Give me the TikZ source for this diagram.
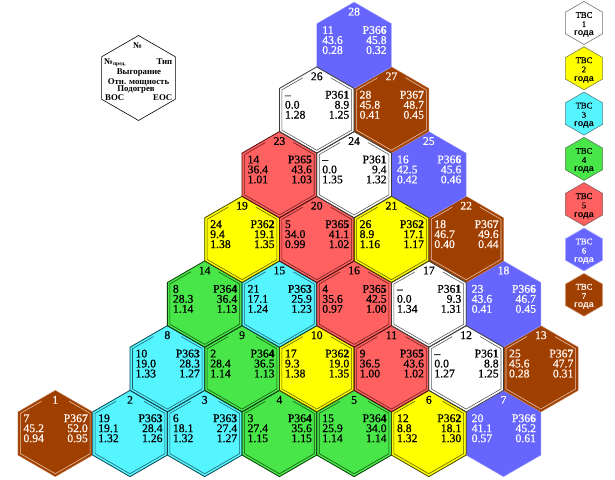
\documentclass[tikz,border=0pt]{standalone}
\usepackage{fontspec}
\setmainfont{Liberation Serif}
\newfontfamily\cellfont{Liberation Serif}[FakeBold=0.7]
\newfontfamily\legsans{Liberation Sans}
\usetikzlibrary{calc}

\definecolor{fillW}{RGB}{255,255,255}\definecolor{softW}{RGB}{255,255,255}
\definecolor{lineW}{RGB}{60,60,60}\definecolor{innW}{RGB}{80,80,80}\definecolor{txtW}{RGB}{0,0,0}
\definecolor{fillY}{RGB}{255,255,0}\definecolor{softY}{RGB}{255,255,0}
\definecolor{lineY}{RGB}{70,70,0}\definecolor{innY}{RGB}{90,90,0}\definecolor{txtY}{RGB}{0,0,0}
\definecolor{fillC}{RGB}{85,245,255}\definecolor{softC}{RGB}{85,245,255}
\definecolor{lineC}{RGB}{20,70,80}\definecolor{innC}{RGB}{30,90,100}\definecolor{txtC}{RGB}{0,0,0}
\definecolor{fillG}{RGB}{72,230,72}\definecolor{softG}{RGB}{72,230,72}
\definecolor{lineG}{RGB}{15,60,15}\definecolor{innG}{RGB}{20,80,20}\definecolor{txtG}{RGB}{0,0,0}
\definecolor{fillR}{RGB}{255,96,96}\definecolor{softR}{RGB}{255,96,96}
\definecolor{lineR}{RGB}{80,20,20}\definecolor{innR}{RGB}{100,30,30}\definecolor{txtR}{RGB}{0,0,0}
\definecolor{fillB}{RGB}{102,102,255}\definecolor{softB}{RGB}{150,150,255}
\definecolor{lineB}{RGB}{150,150,255}\definecolor{innB}{RGB}{102,102,255}\definecolor{txtB}{RGB}{255,255,255}
\definecolor{fillN}{RGB}{160,64,0}\definecolor{softN}{RGB}{200,130,90}
\definecolor{lineN}{RGB}{200,130,90}\definecolor{innN}{RGB}{235,200,180}\definecolor{txtN}{RGB}{255,245,240}

\tikzset{
  celltxt/.style={inner sep=0pt, text height=7.6pt, text depth=0pt, font=\cellfont\fontsize{11.7}{11.7}\selectfont},
  keytxt/.style={inner sep=0pt, text height=5.6pt, text depth=0.6pt, font=\fontsize{8.8}{8.8}\selectfont\bfseries},
  legtxt/.style={inner sep=0pt, text height=5.6pt, text depth=0pt, font=\cellfont\fontsize{8.6}{8.6}\selectfont},
  legyr/.style={inner sep=0pt, text height=4.6pt, text depth=0.8pt, font=\legsans\bfseries\fontsize{9}{9}\selectfont},
}

\def\celllist{%
1/0/1/N/7/7/45.2/52.0/0.94/0.95,
2/2/1/C/19/3/19.1/28.4/1.32/1.26,
3/4/1/C/6/3/18.1/27.4/1.32/1.27,
4/6/1/G/3/4/27.4/35.6/1.15/1.15,
5/8/1/G/15/4/25.9/34.0/1.14/1.14,
6/10/1/Y/12/2/8.8/18.1/1.32/1.30,
7/12/1/B/20/6/41.1/45.2/0.57/0.61,
8/3/2/C/10/3/19.0/28.3/1.33/1.27,
9/5/2/G/2/4/28.4/36.5/1.14/1.13,
10/7/2/Y/17/2/9.3/19.0/1.38/1.35,
11/9/2/R/9/5/36.5/43.6/1.00/1.02,
12/11/2/W/–/1/0.0/8.8/1.27/1.25,
13/13/2/N/25/7/45.6/47.7/0.28/0.31,
14/4/3/G/8/4/28.3/36.4/1.14/1.13,
15/6/3/C/21/3/17.1/25.9/1.24/1.23,
16/8/3/R/4/5/35.6/42.5/0.97/1.00,
17/10/3/W/–/1/0.0/9.3/1.34/1.31,
18/12/3/B/23/6/43.6/46.7/0.41/0.45,
19/5/4/Y/24/2/9.4/19.1/1.38/1.35,
20/7/4/R/5/5/34.0/41.1/0.99/1.02,
21/9/4/Y/26/2/8.9/17.1/1.16/1.17,
22/11/4/N/18/7/46.7/49.6/0.40/0.44,
23/6/5/R/14/5/36.4/43.6/1.01/1.03,
24/8/5/W/–/1/0.0/9.4/1.35/1.32,
25/10/5/B/16/6/42.5/45.6/0.42/0.46,
26/7/6/W/–/1/0.0/8.9/1.28/1.25,
27/9/6/N/28/7/45.8/48.7/0.41/0.45,
28/8/7/B/11/6/43.6/45.8/0.28/0.32}

\begin{document}
\begin{tikzpicture}[x=1pt,y=-1pt]
\fill[white] (0,0) rectangle (615,479);
\useasboundingbox (0,0) rectangle (615,479);

% ---------- key hexagon ----------
\coordinate (key) at (138.5,78);
\begin{scope}[shift={(key)}]
\draw[black, line width=0.6pt] (0,-42.5) -- (36.81,-21.25) -- (36.81,21.25) -- (0,42.5) -- (-36.81,21.25) -- (-36.81,-21.25) -- cycle;
\node[keytxt] (kn) at (-1,-32) {№};
\node[keytxt, anchor=west] (kp) at (-34.5,-16) {№\raisebox{-1.3pt}{\fontsize{5.5}{5.5}\selectfont пред.}};
\node[keytxt, anchor=east] (kt) at (34,-16) {Тип};
\node[keytxt] (kb) at (0.5,-6.3) {Выгорание};
\node[keytxt] (kq) at (0,3.7) {Отн. мощность};
\node[keytxt] (kh) at (-2.5,11.3) {Подогрев};
\node[keytxt, anchor=west] (kl) at (-33.5,19.7) {BOC};
\node[keytxt, anchor=east] (kr) at (34,19.7) {EOC};
\end{scope}

% ---------- cells: fills, inner lines, texts ----------
\foreach \id/\ix/\r/\k/\p/\t/\ba/\bb/\qa/\qb in \celllist {
  \pgfmathsetmacro\cx{55.3+\ix*37.35}
  \pgfmathsetmacro\cy{433.5-(\r-1)*64.7}
  \coordinate (h\id) at (\cx,\cy);
  \begin{scope}[shift={(h\id)}]
    \filldraw[fill=fill\k, draw=soft\k, line width=0.4pt] (0,-43.13) -- (37.35,-21.57) -- (37.35,21.57) -- (0,43.13) -- (-37.35,21.57) -- (-37.35,-21.57) -- cycle;
    \draw[draw=inn\k, line width=0.55pt, line join=miter] (13.9,-32.2) -- (34.85,-20.12) -- (34.85,20.12) -- (0,40.24) -- (-34.85,20.12) -- (-34.85,-20.12) -- (-13.9,-32.2);
    \node[celltxt, text=txt\k, anchor=base] (l\id) at (0,-29.8) {\id};
    \node[celltxt, text=txt\k, anchor=base west] (a\id) at (-32,-11.4) {\p};
    \node[celltxt, text=txt\k, anchor=base west] (b\id) at (-32,-1.4) {\ba};
    \node[celltxt, text=txt\k, anchor=base west] (c\id) at (-32,8.6) {\qa};
    \node[celltxt, text=txt\k, anchor=base east] (d\id) at (32.7,-11.4) {P36\textbf{\t}};
    \node[celltxt, text=txt\k, anchor=base east] (e\id) at (32.7,-1.4) {\bb};
    \node[celltxt, text=txt\k, anchor=base east] (f\id) at (32.7,8.6) {\qb};
  \end{scope}
}

% ---------- cells: dark outer outlines ----------
\foreach \id/\ix/\r/\k/\p/\t/\ba/\bb/\qa/\qb in \celllist {
  \def\dodraw{1}\if\k B\def\dodraw{0}\fi\if\k N\def\dodraw{0}\fi
  \ifnum\dodraw=1
    \draw[draw=line\k, line width=0.8pt, line join=miter, shift={(h\id)}] (0,-43.13) -- (37.35,-21.57) -- (37.35,21.57) -- (0,43.13) -- (-37.35,21.57) -- (-37.35,-21.57) -- cycle;
  \fi
}

% ---------- legend ----------
\foreach \k/\n [count=\i from 0] in {W/1,Y/2,C/3,G/4,R/5,B/6,N/7} {
  \pgfmathsetmacro\ly{23+\i*45.3}
  \coordinate (g\n) at (584,\ly);
  \begin{scope}[shift={(g\n)}]
    \filldraw[fill=fill\k, draw=line\k!70!white, line width=0.6pt] (0,-21.5) -- (18.62,-10.75) -- (18.62,10.75) -- (0,21.5) -- (-18.62,10.75) -- (-18.62,-10.75) -- cycle;
    \node[legtxt, text=txt\k, anchor=base] (gt\n) at (0,-5.2) {ТВС};
    \node[legtxt, text=txt\k, anchor=base] (gn\n) at (0,4) {\n};
    \node[legyr, text=txt\k, anchor=base] (gy\n) at (0,12.8) {года};
  \end{scope}
}
\end{tikzpicture}
\end{document}
